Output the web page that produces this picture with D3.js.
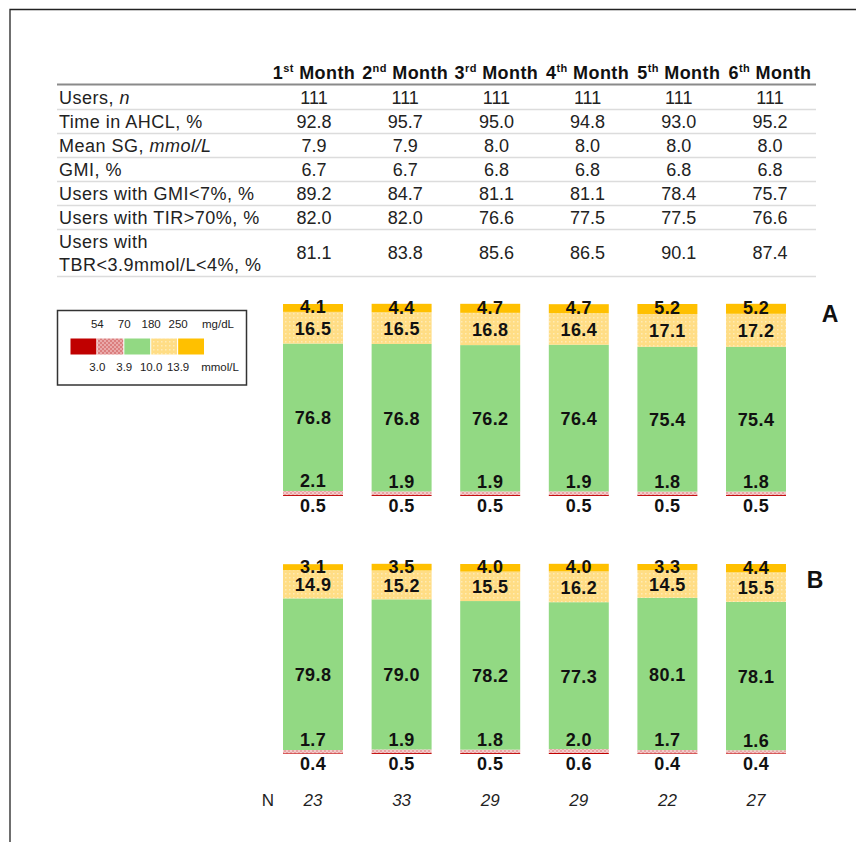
<!DOCTYPE html>
<html><head><meta charset="utf-8">
<script src="https://cdn.jsdelivr.net/npm/d3@7"></script>
<style>
html,body{margin:0;padding:0;background:#fff;}
svg{display:block;font-family:"Liberation Sans",Arial,sans-serif;}
</style></head>
<body>
<svg id="chart" width="856" height="842"></svg>
<script>
// ---------- data ----------
const months = ["1", "2", "3", "4", "5", "6"];
const monthSup = ["st", "nd", "rd", "th", "th", "th"];
const tableRows = [
  {label: ["Users, ", "n"], italicIdx: 1},
  {label: ["Time in AHCL, %"]},
  {label: ["Mean SG, ", "mmol/L"], italicIdx: 1},
  {label: ["GMI, %"]},
  {label: ["Users with GMI<7%, %"]},
  {label: ["Users with TIR>70%, %"]},
  {label: ["Users with", "TBR<3.9mmol/L<4%, %"], twoLine: true}
];
const usersN   = ["111", "111", "111", "111", "111", "111"];
const timeAHCL = ["92.8", "95.7", "95.0", "94.8", "93.0", "95.2"];
const meanSG   = ["7.9", "7.9", "8.0", "8.0", "8.0", "8.0"];
const gmi      = ["6.7", "6.7", "6.8", "6.8", "6.8", "6.8"];
const gmiLt7   = ["89.2", "84.7", "81.1", "81.1", "78.4", "75.7"];
const tirGt70  = ["82.0", "82.0", "76.6", "77.5", "77.5", "76.6"];
const tbrLt4   = ["81.1", "83.8", "85.6", "86.5", "90.1", "87.4"];
const tableValues = [usersN, timeAHCL, meanSG, gmi, gmiLt7, tirGt70, tbrLt4];

const keys = ["veryLow", "low", "tir", "high", "veryHigh"];
// Panel A
const aVeryHigh = [4.1, 4.4, 4.7, 4.7, 5.2, 5.2];
const aHigh     = [16.5, 16.5, 16.8, 16.4, 17.1, 17.2];
const aTir      = [76.8, 76.8, 76.2, 76.4, 75.4, 75.4];
const aLow      = [2.1, 1.9, 1.9, 1.9, 1.8, 1.8];
const aVeryLow  = [0.5, 0.5, 0.5, 0.5, 0.5, 0.5];
// Panel B
const bVeryHigh = [3.1, 3.5, 4.0, 4.0, 3.3, 4.4];
const bHigh     = [14.9, 15.2, 15.5, 16.2, 14.5, 15.5];
const bTir      = [79.8, 79.0, 78.2, 77.3, 80.1, 78.1];
const bLow      = [1.7, 1.9, 1.8, 2.0, 1.7, 1.6];
const bVeryLow  = [0.4, 0.5, 0.5, 0.6, 0.4, 0.4];
const nValues   = [23, 33, 29, 29, 22, 27];

const legendMg   = ["54", "70", "180", "250"];
const legendMmol = ["3.0", "3.9", "10.0", "13.9"];

// ---------- setup ----------
const svg = d3.select("#chart");
const defs = svg.append("defs");

const pLow = defs.append("pattern").attr("id", "pLow").attr("width", 4).attr("height", 4)
  .attr("patternUnits", "userSpaceOnUse");
pLow.append("rect").attr("width", 4).attr("height", 4).attr("fill", "#E8A4A4");
pLow.append("rect").attr("x", 0).attr("y", 0).attr("width", 2).attr("height", 2).attr("fill", "#F3CACA");
pLow.append("rect").attr("x", 2).attr("y", 2).attr("width", 2).attr("height", 2).attr("fill", "#F3CACA");
const pLowL = defs.append("pattern").attr("id", "pLowL").attr("width", 4).attr("height", 4)
  .attr("patternUnits", "userSpaceOnUse");
pLowL.append("rect").attr("width", 4).attr("height", 4).attr("fill", "#DB7E7E");
pLowL.append("rect").attr("x", 0).attr("y", 0).attr("width", 2).attr("height", 2).attr("fill", "#E9A9A9");
pLowL.append("rect").attr("x", 2).attr("y", 2).attr("width", 2).attr("height", 2).attr("fill", "#E9A9A9");
const pHigh = defs.append("pattern").attr("id", "pHigh").attr("width", 4).attr("height", 4)
  .attr("patternUnits", "userSpaceOnUse");
pHigh.append("rect").attr("width", 4).attr("height", 4).attr("fill", "#FFDD85");
pHigh.append("rect").attr("x", 1).attr("y", 1).attr("width", 1.5).attr("height", 1.5).attr("fill", "#FFEBB5");

const colors = {veryLow: "#C00000", low: "url(#pLow)", tir: "#92D983", high: "url(#pHigh)", veryHigh: "#FFC000"};
const legendColors = ["#C00000", "url(#pLowL)", "#92D983", "url(#pHigh)", "#FFC000"];

// frame
svg.append("path").attr("d", "M10,842 V9.5 H860").attr("fill", "none")
  .attr("stroke", "#222").attr("stroke-width", 1.3);

// ---------- table ----------
const colX = d3.scalePoint().domain(months).range([314, 770]);
const tableLeft = 57, tableRight = 816;
const headerY = 79;

const header = svg.append("g").attr("font-weight", "bold").attr("font-size", 18).attr("fill", "#111");
months.forEach((m, i) => {
  const t = header.append("text").attr("x", colX(m)).attr("y", headerY)
    .attr("text-anchor", "middle").attr("letter-spacing", 0.4);
  t.append("tspan").text(m);
  t.append("tspan").text(monthSup[i]).attr("font-size", 11).attr("dy", -7);
  t.append("tspan").text(" Month").attr("dy", 7);
});
svg.append("line").attr("x1", tableLeft).attr("x2", tableRight).attr("y1", 84.5).attr("y2", 84.5)
  .attr("stroke", "#8a8a8a").attr("stroke-width", 2);

const rowH = 24;
let rowTop = 85.5;
tableRows.forEach((row, r) => {
  const h = row.twoLine ? 47 : rowH;
  const cy = rowTop + h / 2;
  const g = svg.append("g").attr("font-size", 18).attr("fill", "#222");
  if (row.twoLine) {
    g.append("text").attr("x", 59).attr("y", cy - 11.5).attr("dy", "0.35em").attr("letter-spacing", 0.5).text(row.label[0]);
    g.append("text").attr("x", 59).attr("y", cy + 11.5).attr("dy", "0.35em").attr("letter-spacing", 0.5).text(row.label[1]);
  } else {
    const t = g.append("text").attr("x", 59).attr("y", cy).attr("dy", "0.35em").attr("letter-spacing", 0.5);
    row.label.forEach((s, k) => {
      const ts = t.append("tspan").text(s);
      if (row.italicIdx === k) ts.attr("font-style", "italic");
    });
  }
  tableValues[r].forEach((v, i) => {
    g.append("text").attr("x", colX(months[i])).attr("y", cy).attr("dy", "0.35em")
      .attr("text-anchor", "middle").text(v);
  });
  rowTop += h;
  svg.append("line").attr("x1", tableLeft).attr("x2", tableRight).attr("y1", rowTop).attr("y2", rowTop)
    .attr("stroke", "#dcdcdc").attr("stroke-width", 1.5);
});

// ---------- bars ----------
const x = d3.scaleBand().domain(months).range([254.4, 814.6]).padding(0.323);

function panel(data, y0, y1, letter, letterX, letterY) {
  const y = d3.scaleLinear().domain([0, 100]).range([y0, y1]);
  const stack = d3.stack().keys(keys)(data);
  const g = svg.append("g");
  g.selectAll("g.layer").data(stack).join("g").attr("class", "layer")
    .attr("fill", d => colors[d.key])
    .selectAll("rect").data(d => d).join("rect")
    .attr("x", (d, i) => x(months[i]))
    .attr("width", x.bandwidth())
    .attr("y", d => y(d[1]))
    .attr("height", d => y(d[0]) - y(d[1]));

  const lab = g.append("g").attr("font-weight", "bold").attr("font-size", 18).attr("fill", "#111")
    .attr("text-anchor", "middle").attr("letter-spacing", 0.4);
  stack.forEach(layer => {
    layer.forEach((d, i) => {
      const v = d.data[layer.key];
      let yy;
      if (layer.key === "veryLow") yy = y(0) + 10;
      else if (layer.key === "low") yy = y(d[1]) - 10;
      else if (layer.key === "veryHigh") yy = (y(d[0]) + y(d[1])) / 2 - 1;
      else yy = (y(d[0]) + y(d[1])) / 2 + 0.5;
      lab.append("text").attr("x", x(months[i]) + x.bandwidth() / 2).attr("y", yy)
        .attr("dy", "0.36em").text(v.toFixed(1));
    });
  });
  svg.append("text").attr("x", letterX).attr("y", letterY).attr("dy", "0.36em")
    .attr("text-anchor", "middle").attr("font-weight", "bold").attr("font-size", 23)
    .attr("fill", "#111").text(letter);
}

const dataA = months.map((m, i) => ({month: m, veryLow: aVeryLow[i], low: aLow[i], tir: aTir[i], high: aHigh[i], veryHigh: aVeryHigh[i]}));
const dataB = months.map((m, i) => ({month: m, veryLow: bVeryLow[i], low: bLow[i], tir: bTir[i], high: bHigh[i], veryHigh: bVeryHigh[i]}));
panel(dataA, 496, 304, "A", 830, 314);
panel(dataB, 754, 564, "B", 815, 580);

// N row
const nG = svg.append("g").attr("font-size", 17).attr("fill", "#222");
nG.append("text").attr("x", 268).attr("y", 800).attr("dy", "0.36em").attr("text-anchor", "middle").text("N");
nValues.forEach((v, i) => {
  nG.append("text").attr("x", x(months[i]) + x.bandwidth() / 2).attr("y", 800).attr("dy", "0.36em")
    .attr("text-anchor", "middle").attr("font-style", "italic").text(v);
});

// ---------- legend ----------
const lg = svg.append("g");
lg.append("rect").attr("x", 57.5).attr("y", 310.5).attr("width", 189).attr("height", 74.5)
  .attr("fill", "#fff").attr("stroke", "#333").attr("stroke-width", 1.5);
const sw = d3.scaleBand().domain(d3.range(5)).range([70.5, 204]).paddingInner(0.04);
lg.selectAll("rect.sw").data(legendColors).join("rect").attr("class", "sw")
  .attr("x", (d, i) => sw(i)).attr("width", sw.bandwidth())
  .attr("y", 338.5).attr("height", 16).attr("fill", d => d);
const lt = lg.append("g").attr("font-size", 11.5).attr("fill", "#222").attr("text-anchor", "middle");
legendMg.forEach((t, i) => {
  lt.append("text").attr("x", sw(i) + sw.bandwidth() + 1).attr("y", 324).attr("dy", "0.35em").text(t);
});
legendMmol.forEach((t, i) => {
  lt.append("text").attr("x", sw(i) + sw.bandwidth() + 1).attr("y", 367).attr("dy", "0.35em").text(t);
});
lt.append("text").attr("x", 218).attr("y", 324).attr("dy", "0.35em").text("mg/dL");
lt.append("text").attr("x", 220).attr("y", 367).attr("dy", "0.35em").text("mmol/L");
</script>
</body></html>
